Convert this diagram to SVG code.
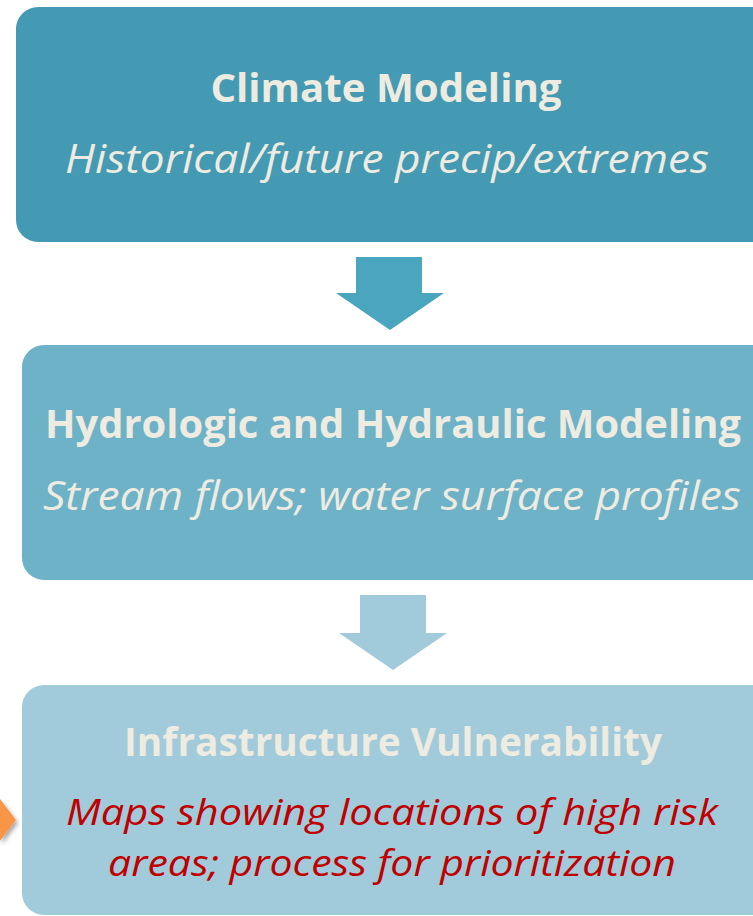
<svg xmlns="http://www.w3.org/2000/svg" width="753" height="916" viewBox="0 0 753 916">
  <defs>
    <style>
      .title { font-family: "Open Sans", "Liberation Sans", sans-serif; font-weight: bold; font-size: 40px; fill: #EEEBE0; }
      .sub { font-family: "Open Sans", "Liberation Sans", sans-serif; font-style: italic; font-size: 40px; fill: #EEEBE0; }
      .red { font-family: "Open Sans", "Liberation Sans", sans-serif; font-style: italic; font-size: 36px; fill: #C00000; }
    </style>
    <filter id="sh" x="-50%" y="-50%" width="200%" height="200%">
      <feDropShadow dx="2" dy="3" stdDeviation="2" flood-color="#000" flood-opacity="0.35"/>
    </filter>
  </defs>
  <rect width="753" height="916" fill="#FFFFFF"/>

  <g id="climate-modeling">
    <rect x="16" y="7" width="757" height="235" rx="22" fill="#449AB2"/>
    <text class="title" x="386" y="102" text-anchor="middle" textLength="351" lengthAdjust="spacingAndGlyphs">Climate Modeling</text>
    <text class="sub" x="387" y="173" text-anchor="middle" textLength="644" lengthAdjust="spacingAndGlyphs">Historical/future precip/extremes</text>
  </g>

  <g id="hydro-modeling">
    <rect x="22" y="345" width="751" height="235" rx="22" fill="#6EB2C8"/>
    <text class="title" x="393" y="438" text-anchor="middle" textLength="696" lengthAdjust="spacingAndGlyphs">Hydrologic and Hydraulic Modeling</text>
    <text class="sub" x="392" y="510" text-anchor="middle" textLength="698" lengthAdjust="spacingAndGlyphs">Stream flows; water surface profiles</text>
  </g>

  <g id="infrastructure-vulnerability">
    <rect x="22" y="685" width="751" height="230" rx="22" fill="#A1CADA"/>
    <text class="title" x="393" y="756" text-anchor="middle" textLength="538" lengthAdjust="spacingAndGlyphs">Infrastructure Vulnerability</text>
    <text class="red" x="392" y="825" text-anchor="middle" textLength="652" lengthAdjust="spacingAndGlyphs">Maps showing locations of high risk</text>
    <text class="red" x="392" y="876" text-anchor="middle" textLength="568" lengthAdjust="spacingAndGlyphs">areas; process for prioritization</text>
  </g>

  <g id="connectors">
    <polygon points="356,257 422,257 422,293 444,293 390,330 336,293 356,293" fill="#49A6BE"/>
    <polygon points="360,595 426,595 426,633 447,633 393,670 339,633 360,633" fill="#A1CADA"/>
    <polygon points="0,799 16,820 0,841" fill="#F79646" filter="url(#sh)"/>
  </g>
</svg>
